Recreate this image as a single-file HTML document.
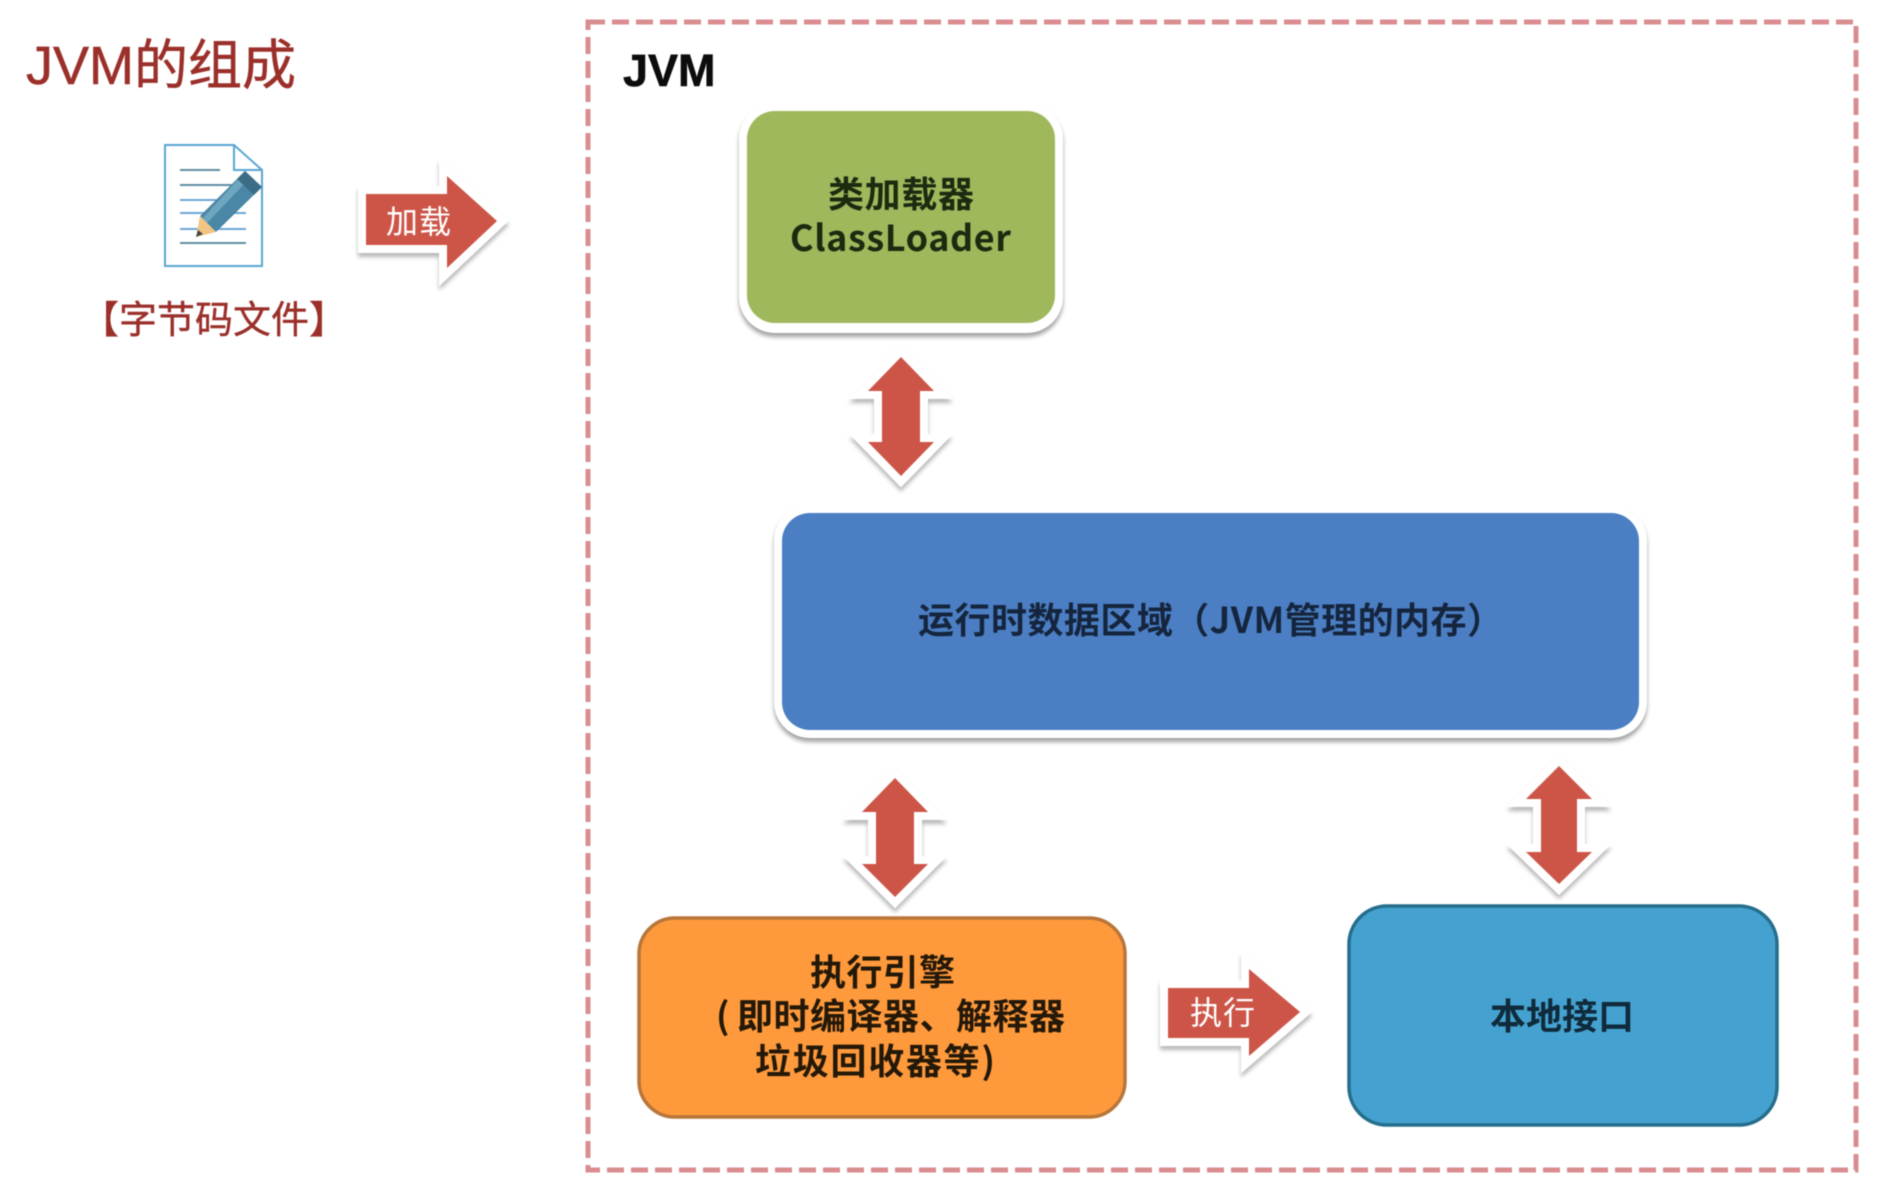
<!DOCTYPE html>
<html lang="zh"><head><meta charset="utf-8"><title>JVM的组成</title>
<style>
html,body{margin:0;padding:0;background:#fff;width:1893px;height:1184px;overflow:hidden}
svg{display:block;filter:blur(.6px)}
text{font-family:"Liberation Sans","Noto Sans CJK SC",sans-serif}
.n{font-family:"Noto Sans CJK SC","Liberation Sans",sans-serif;font-weight:700}
.arrow{fill:#cd5548;stroke:#fff;stroke-width:16;stroke-miterlimit:8;paint-order:stroke;filter:drop-shadow(0 4px 2px rgba(0,0,0,.28))}
.halo{fill:#fff;filter:drop-shadow(0 4px 2px rgba(0,0,0,.36))}
</style></head><body>
<svg width="1893" height="1184" viewBox="0 0 1893 1184" xmlns="http://www.w3.org/2000/svg">
<rect x="0" y="0" width="1893" height="1184" fill="#fff"/>
<rect x="588" y="22" width="1268" height="1148" fill="none" stroke="#d98d90" stroke-width="5" stroke-dasharray="17 7"/>

<text x="26" y="84" font-size="54" fill="#9b2f2a" stroke="#9b2f2a" stroke-width=".5" textLength="270" lengthAdjust="spacingAndGlyphs">JVM的组成</text>
<text x="623" y="86" font-size="45" font-weight="700" fill="#0c0c0c" stroke="#0c0c0c" stroke-width=".6">JVM</text>

<!-- document icon -->
<path d="M165 145H234L262 170V266H165Z" fill="#fff" stroke="#5aa5d2" stroke-width="2"/>
<path d="M234 145V170H262" fill="none" stroke="#5aa5d2" stroke-width="2"/>
<g stroke-width="2" fill="none">
<path d="M180 170H220" stroke="#5f8ea3"/>
<path d="M180 185H246" stroke="#5f8ea3"/>
<path d="M180 200H246" stroke="#6ba6d6"/>
<path d="M180 213H246" stroke="#6ba6d6"/>
<path d="M180 229H246" stroke="#6ba6d6"/>
<path d="M180 243H246" stroke="#5f8ea3"/>
</g>
<polygon points="245,171 262,187 216,232 200,216" fill="#4a87a6"/>
<polygon points="241,176 247,181 207,223 203,218" fill="#6ea6c0"/>
<polygon points="245,171 262,187 254,195 237,179" fill="#3b6d86"/>
<polygon points="200,216 216,232 196,237" fill="#f3c583"/>
<polygon points="198,230 203,234 196,237" fill="#444"/>
<text x="81" y="333" font-size="38" fill="#9b2f2a" stroke="#9b2f2a" stroke-width=".4">【字节码文件】</text>

<!-- load arrow -->
<polygon class="arrow" points="366,194 447,194 447,176 497,221 447,268 447,245 366,245"/>
<text x="386" y="233" font-size="32" fill="#fff" textLength="65" lengthAdjust="spacing">加载</text>

<!-- green -->
<rect class="halo" x="739" y="103" width="324" height="230" rx="36"/>
<rect x="747" y="111" width="308" height="212" rx="28" fill="#9fb85c"/>
<text class="n" x="828" y="207" font-size="36" fill="#1c2a10" textLength="146" lengthAdjust="spacing">类加载器</text>
<text class="n" x="790" y="251" font-size="36" fill="#1c2a10" textLength="221" lengthAdjust="spacing">ClassLoader</text>

<!-- arrow 1 -->
<polygon class="arrow" points="901,357 934,391 920,391 920,442 934,442 901,476 868,442 882,442 882,391 868,391"/>

<!-- blue big -->
<rect class="halo" x="774" y="505" width="873" height="233" rx="36"/>
<rect x="782" y="513" width="857" height="217" rx="28" fill="#4b7ec3"/>
<text class="n" x="918" y="633" font-size="36" fill="#15253d" textLength="585" lengthAdjust="spacing">运行时数据区域（JVM管理的内存）</text>

<!-- arrow 2 -->
<polygon class="arrow" points="895,778 928,812 914,812 914,864 928,864 895,897 862,864 876,864 876,812 862,812"/>
<!-- arrow 3 -->
<polygon class="arrow" points="1559,766 1592,799 1577,799 1577,852 1592,852 1559,884 1526,852 1541,852 1541,799 1526,799"/>

<!-- orange -->
<rect x="639" y="918" width="486" height="199" rx="36" fill="#ff9a3c" stroke="#b8763a" stroke-width="3.5"/>
<text class="n" x="810" y="985" font-size="36" fill="#241808" textLength="145" lengthAdjust="spacing">执行引擎</text>
<text class="n" x="716" y="1029" font-size="36" fill="#241808">(</text>
<text class="n" x="737" y="1029" font-size="36" fill="#241808" textLength="328" lengthAdjust="spacing">即时编译器、解释器</text>
<text class="n" x="755" y="1074" font-size="36" fill="#241808" textLength="240" lengthAdjust="spacing">垃圾回收器等)</text>

<!-- exec arrow -->
<polygon class="arrow" points="1168,988 1249,988 1249,969 1300,1012 1249,1056 1249,1038 1168,1038"/>
<text x="1190" y="1024" font-size="32" fill="#fff" textLength="65" lengthAdjust="spacing">执行</text>

<!-- local -->
<rect x="1349" y="906" width="428" height="219" rx="38" fill="#45a2d0" stroke="#256e8c" stroke-width="3.5"/>
<text class="n" x="1490" y="1029" font-size="36" fill="#0f2a3a" textLength="144" lengthAdjust="spacing">本地接口</text>
</svg>
</body></html>
